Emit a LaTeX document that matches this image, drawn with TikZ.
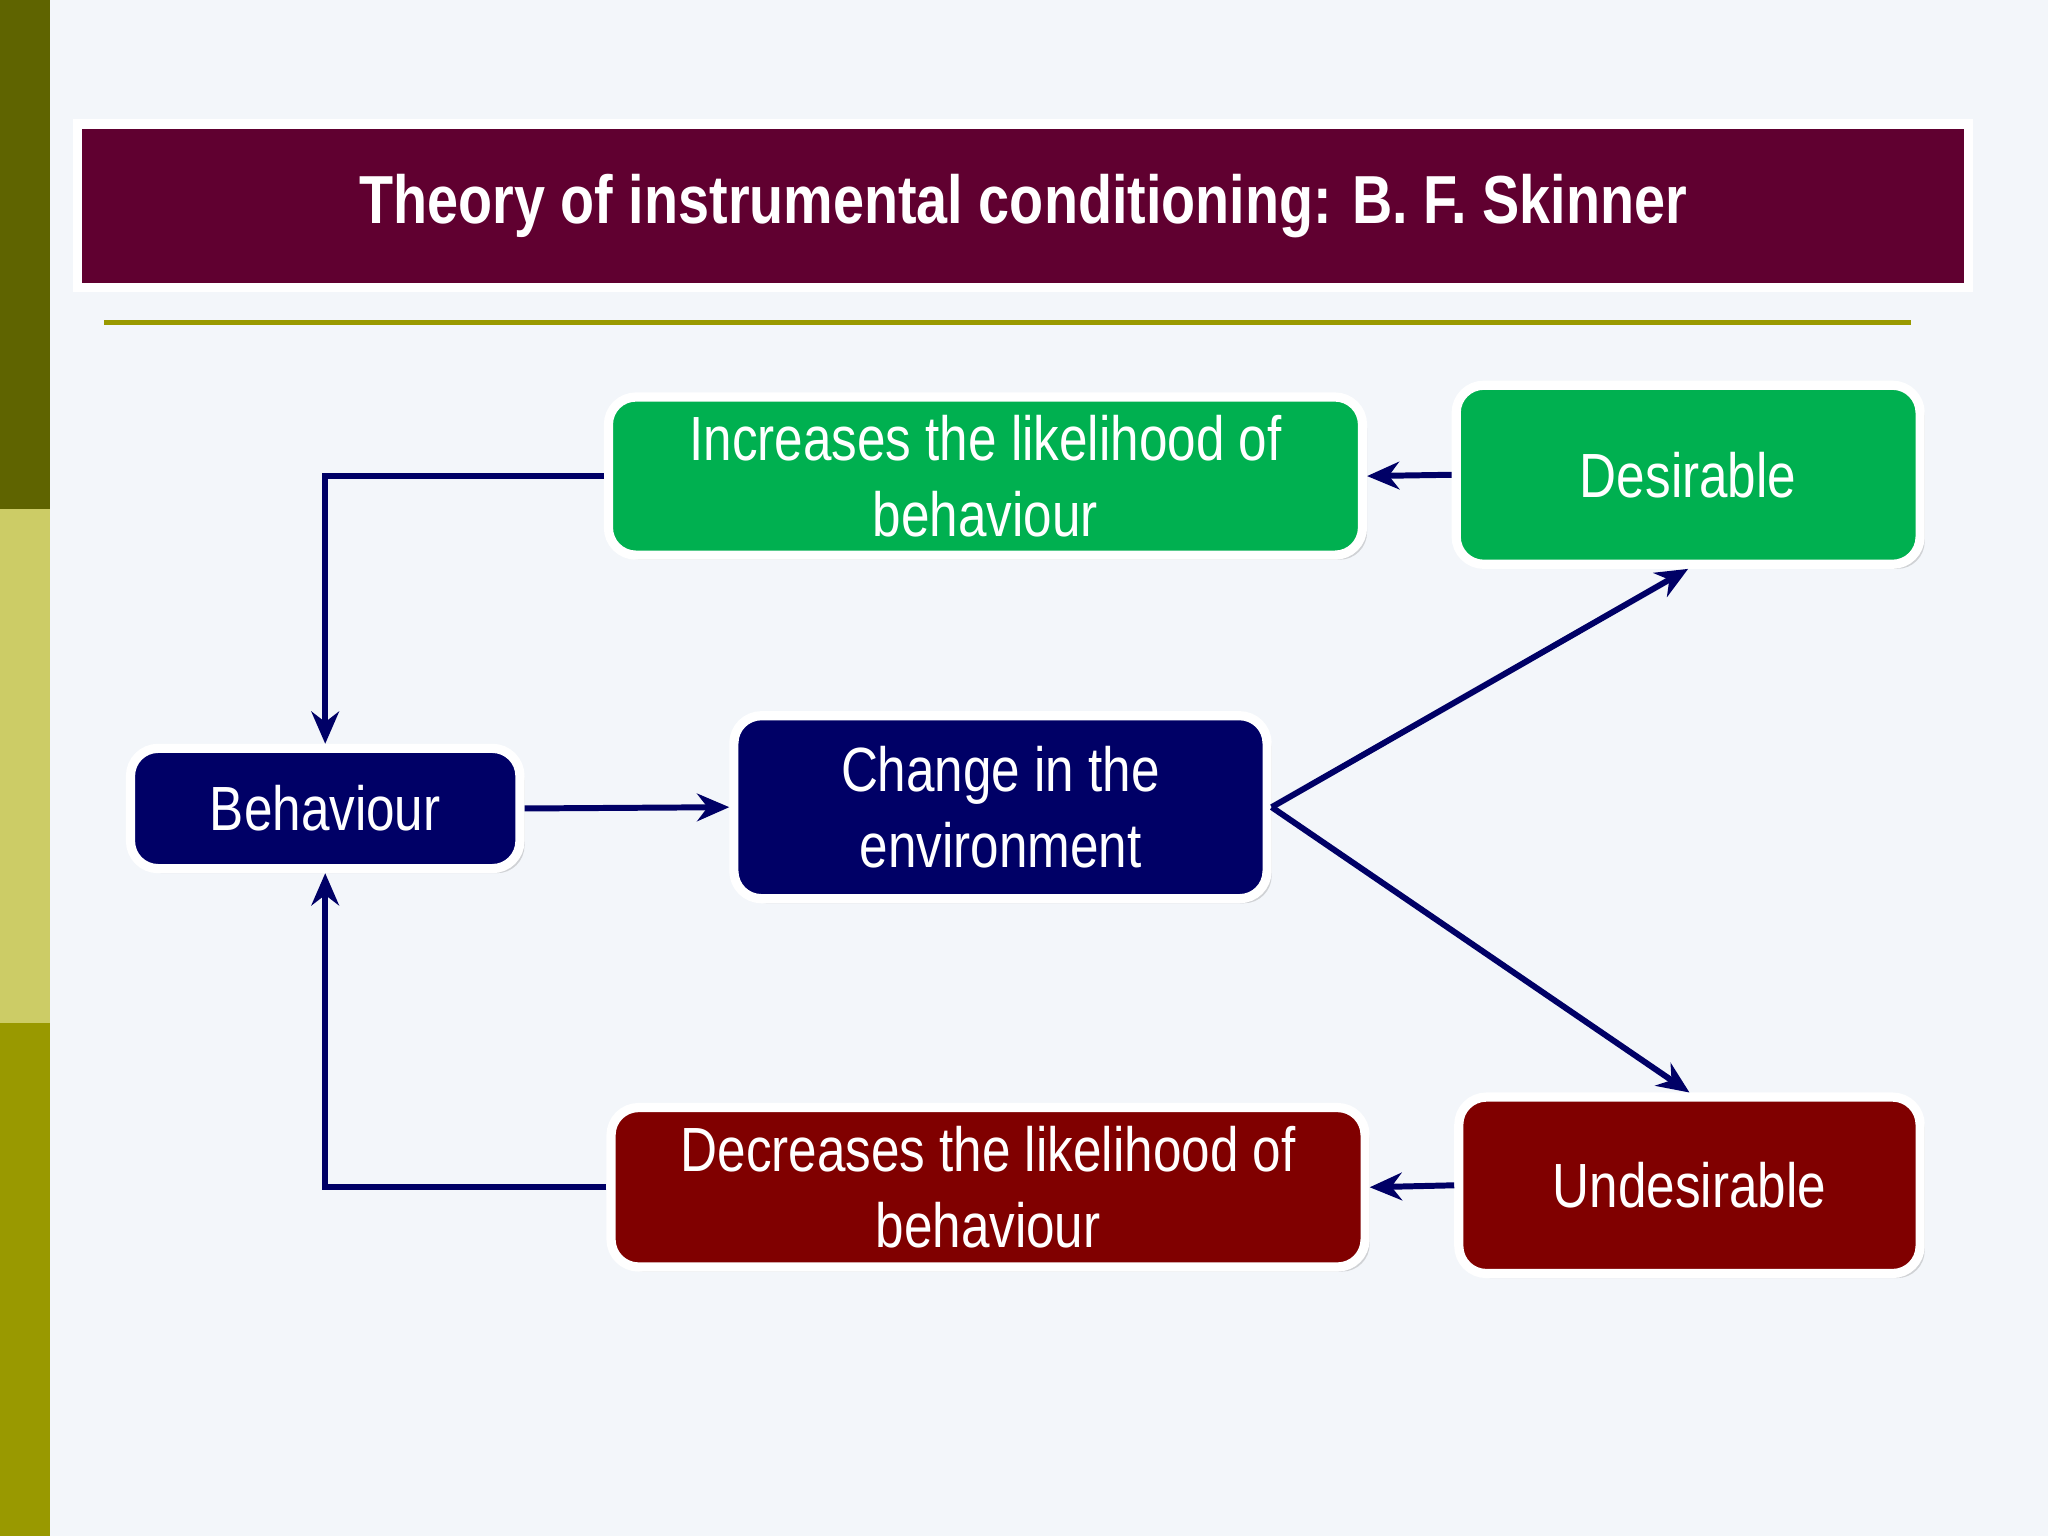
\documentclass[tikz,border=0pt]{standalone}
\usepackage{fontspec}
\setmainfont{Liberation Sans}[FakeStretch=0.82]
\usetikzlibrary{shadows,arrows.meta}
\definecolor{bgc}{HTML}{F3F6FA}
\definecolor{olvA}{HTML}{5F6400}
\definecolor{olvB}{HTML}{CCCC66}
\definecolor{olvC}{HTML}{999900}
\definecolor{titlec}{HTML}{600030}
\definecolor{greenc}{HTML}{00B050}
\definecolor{navyc}{HTML}{000066}
\definecolor{redc}{HTML}{800000}
\begin{document}
\begin{tikzpicture}[x=0.01cm,y=-0.01cm,
  box/.style={rounded corners=6pt,draw=white,line width=2pt,text=white,
    align=center,font=\fontsize{13.6}{16.5}\selectfont,inner sep=0pt,
    drop shadow={shadow xshift=1pt,shadow yshift=-1pt,opacity=0.3}},
  arr/.style={draw=navyc,line width=1.3pt,-{Stealth[length=7pt,width=6pt]}}]
\fill[bgc] (0,0) rectangle (1568,1176);
\useasboundingbox (0,0) rectangle (1568,1176);
\fill[olvA] (0,0) rectangle (38,390);
\fill[olvB] (0,390) rectangle (38,783);
\fill[olvC] (0,783) rectangle (38,1176);
\node[box,rounded corners=0pt,fill=titlec,minimum width=14.47cm,minimum height=1.25cm,
  font=\bfseries\fontsize{14.8}{18}\selectfont] (title) at (783.5,157.5)
  {Theory of instrumental conditioning: B. F. Skinner};
\draw[olvC,line width=1.2pt] (80,247) -- (1463,247);
\node[box,fill=greenc,minimum width=5.77cm,minimum height=1.21cm] (inc) at (754.5,364.5)
  {Increases the likelihood of\\behaviour};
\node[box,fill=greenc,minimum width=3.55cm,minimum height=1.37cm] (des) at (1292.5,363.5)
  {Desirable};
\node[box,fill=navyc,minimum width=2.98cm,minimum height=0.92cm] (beh) at (249,619)
  {Behaviour};
\node[box,fill=navyc,minimum width=4.08cm,minimum height=1.40cm] (chg) at (766,618)
  {Change in the\\environment};
\node[box,fill=redc,minimum width=5.77cm,minimum height=1.22cm] (dec) at (756.5,909)
  {Decreases the likelihood of\\behaviour};
\node[box,fill=redc,minimum width=3.53cm,minimum height=1.35cm] (und) at (1293.5,907.5)
  {Undesirable};
\draw[arr] (inc.west) -- (inc.west -| beh.north) -- (beh.north);
\draw[arr] (dec.west) -- (dec.west -| beh.south) -- (beh.south);
\draw[arr] (beh.east) -- (chg.west);
\draw[arr] (chg.east) -- (des.south);
\draw[arr] (chg.east) -- (und.north);
\draw[arr] (des.west) -- (inc.east);
\draw[arr] (und.west) -- (dec.east);
\end{tikzpicture}
\end{document}
